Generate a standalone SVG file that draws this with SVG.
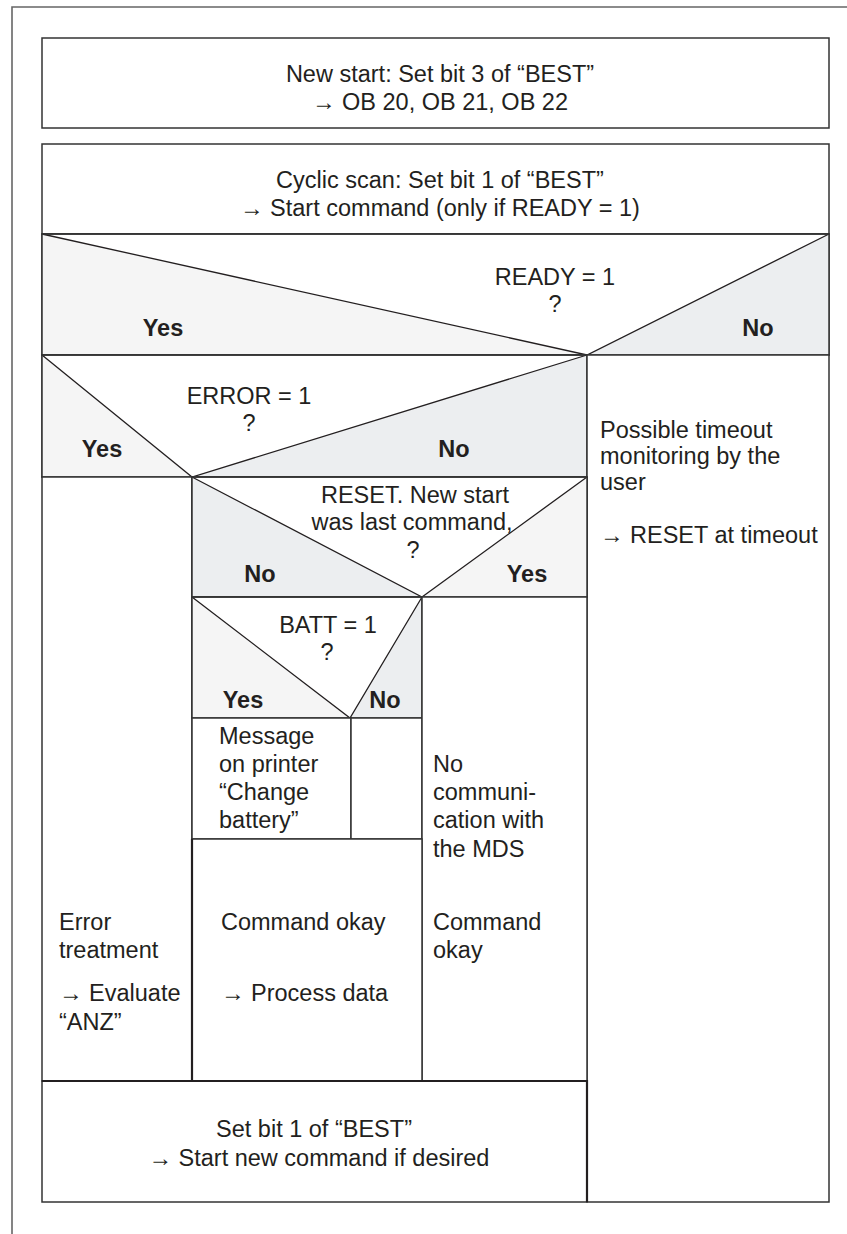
<svg xmlns="http://www.w3.org/2000/svg" width="847" height="1234" viewBox="0 0 847 1234">
<style>
.t{font-family:"Liberation Sans",Arial,sans-serif;font-size:23.5px;fill:#231f20}
.c{text-anchor:middle}
.b{font-weight:bold}
.box{fill:#fff;stroke:#333;stroke-width:1.5}
.ln{fill:none;stroke:#231f20;stroke-width:1.3}
.dk{fill:none;stroke:#231f20;stroke-width:2.2}
.yes{fill:#f5f5f5;stroke:none}
.no{fill:#eceef0;stroke:none}
.frame{fill:none;stroke:#666;stroke-width:1.6}
</style>
<rect width="847" height="1234" fill="#fff"/>
<g id="frame"><path class="frame" d="M12,1234 V7 H847"/></g>

<g id="newstart">
<rect class="box" x="42" y="38" width="787" height="90"/>
<text class="t c" x="440" y="82">New start: Set bit 3 of “BEST”</text>
<text class="t c" x="440" y="110">→ OB 20, OB 21, OB 22</text>
</g>

<g id="cyclic">
<rect class="box" x="42" y="144" width="787" height="90"/>
<text class="t c" x="440" y="188">Cyclic scan: Set bit 1 of “BEST”</text>
<text class="t c" x="440" y="216">→ Start command (only if READY = 1)</text>
</g>

<g id="ready">
<rect class="box" x="42" y="234" width="787" height="121"/>
<polygon class="yes" points="42,234 587,355 42,355"/>
<polygon class="no" points="829,234 829,355 587,355"/>
<path class="ln" d="M42,234 L587,355 L829,234"/>
<rect x="42" y="234" width="787" height="121" fill="none" stroke="#333" stroke-width="1.5"/>
<text class="t c" x="555" y="285">READY = 1</text>
<text class="t c" x="555" y="312">?</text>
<text class="t c b" x="163" y="336">Yes</text>
<text class="t c b" x="758" y="336">No</text>
</g>

<g id="error">
<rect class="box" x="42" y="355" width="545" height="122"/>
<polygon class="yes" points="42,355 192,477 42,477"/>
<polygon class="no" points="587,355 587,477 192,477"/>
<path class="ln" d="M42,355 L192,477 L587,355"/>
<rect x="42" y="355" width="545" height="122" fill="none" stroke="#333" stroke-width="1.5"/>
<text class="t c" x="249" y="404">ERROR = 1</text>
<text class="t c" x="249" y="431">?</text>
<text class="t c b" x="102" y="457">Yes</text>
<text class="t c b" x="454" y="457">No</text>
</g>

<g id="timeout">
<rect class="box" x="587" y="355" width="242" height="847"/>
<text class="t" x="600" y="438">Possible timeout</text>
<text class="t" x="600" y="464">monitoring by the</text>
<text class="t" x="600" y="490">user</text>
<text class="t" x="600" y="543">→ RESET at timeout</text>
</g>

<g id="errortreat">
<rect class="box" x="42" y="477" width="150" height="604"/>
<text class="t" x="59" y="930">Error</text>
<text class="t" x="59" y="958">treatment</text>
<text class="t" x="59" y="1001">→ Evaluate</text>
<text class="t" x="59" y="1030">“ANZ”</text>
</g>

<g id="reset">
<rect class="box" x="192" y="477" width="395" height="120"/>
<polygon class="no" points="192,477 422,597 192,597"/>
<polygon class="yes" points="587,477 587,597 422,597"/>
<path class="ln" d="M192,477 L422,597 L587,477"/>
<rect x="192" y="477" width="395" height="120" fill="none" stroke="#333" stroke-width="1.5"/>
<text class="t c" x="415" y="503">RESET. New start</text>
<text class="t c" x="412" y="530">was last command,</text>
<text class="t c" x="413" y="558">?</text>
<text class="t c b" x="260" y="582">No</text>
<text class="t c b" x="527" y="582">Yes</text>
</g>

<g id="batt">
<rect class="box" x="192" y="597" width="230" height="121"/>
<polygon class="yes" points="192,597 350,718 192,718"/>
<polygon class="no" points="422,597 422,718 350,718"/>
<path class="ln" d="M192,597 L350,718 L422,597"/>
<rect x="192" y="597" width="230" height="121" fill="none" stroke="#333" stroke-width="1.5"/>
<text class="t c" x="328" y="633">BATT = 1</text>
<text class="t c" x="327" y="660">?</text>
<text class="t c b" x="243" y="708">Yes</text>
<text class="t c b" x="385" y="708">No</text>
</g>

<g id="message">
<rect class="box" x="192" y="718" width="159" height="121"/>
<text class="t" x="219" y="744">Message</text>
<text class="t" x="219" y="772">on printer</text>
<text class="t" x="219" y="800">“Change</text>
<text class="t" x="219" y="828">battery”</text>
</g>

<g id="nomessage">
<rect class="box" x="351" y="718" width="71" height="121"/>
</g>

<g id="nocomm">
<rect class="box" x="422" y="597" width="165" height="484"/>
<text class="t" x="433" y="772">No</text>
<text class="t" x="433" y="800">communi-</text>
<text class="t" x="433" y="828">cation with</text>
<text class="t" x="433" y="857">the MDS</text>
<text class="t" x="433" y="930">Command</text>
<text class="t" x="433" y="958">okay</text>
</g>

<g id="cmdokay">
<rect class="box" x="192" y="839" width="230" height="242"/>
<path class="dk" d="M192,839 V1081"/>
<text class="t" x="221" y="930">Command okay</text>
<text class="t" x="221" y="1001">→ Process data</text>
</g>

<g id="setbit">
<rect class="box" x="42" y="1081" width="545" height="121"/>
<path class="dk" d="M42,1081 H587 V1202"/>
<text class="t c" x="314" y="1137">Set bit 1 of “BEST”</text>
<text class="t c" x="319" y="1166">→ Start new command if desired</text>
</g>
</svg>
